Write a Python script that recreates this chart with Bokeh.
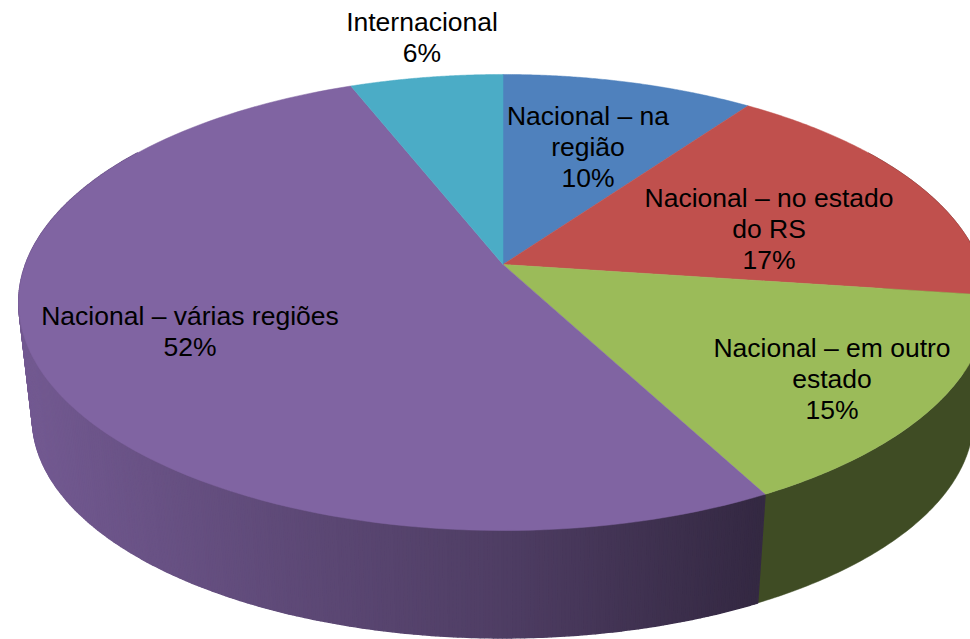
import numpy as np
from bokeh.plotting import figure
from bokeh.models import Range1d
from bokeh.core.properties import value
from bokeh.embed import file_html
from bokeh.resources import INLINE

# Data (share of each slice, clockwise from 12 o'clock)
categories = ["Nacional – na região", "Nacional – no estado do RS",
              "Nacional – em outro estado", "Nacional – várias regiões", "Internacional"]
shares = [9.9, 17.25, 15.1, 51.75, 6.0]
pct_labels = ["10%", "17%", "15%", "52%", "6%"]
colors = ["#4F81BD", "#C0504D", "#9BBB59", "#8064A2", "#4BACC6"]
label_lines = [["Nacional – na", "região", "10%"],
               ["Nacional – no estado", "do RS", "17%"],
               ["Nacional – em outro", "estado", "15%"],
               ["Nacional – várias regiões", "52%"],
               ["Internacional", "6%"]]
label_x = [587.5, 768.5, 831.5, 189.5, 421.5]
label_y = [115.5, 197.5, 347.5, 315.5, 21.5]
line_step = 31

W, H = 970, 639
p = figure(width=W, height=H, output_backend="svg", toolbar_location=None,
           x_range=Range1d(0, 970), y_range=Range1d(639, 0),
           min_border=0, min_border_left=0, min_border_right=0,
           min_border_top=0, min_border_bottom=0, outline_line_color=None)
p.axis.visible = False
p.grid.visible = False
p.background_fill_color = "white"
p.border_fill_color = "white"

# Perspective projection of the disc
CX, TOP_Y, A, B, C = 502.5, 264.0, 477.5, 221.7, 1 / 6
BOT_Y, BOT_A, BOT_B = 381.0, 464.0, 213.7


def project(theta, cy, a, b):
    u, v = np.sin(theta), np.cos(theta)
    w = 1 + C * v
    return CX + a * u / w, cy - b * v / w


def mix(hexcol, f):
    r, g, b = [int(hexcol[i:i + 2], 16) for i in (1, 3, 5)]
    return "#%02x%02x%02x" % (int(r * f), int(g * f), int(b * f))


edges = np.concatenate([[0], np.cumsum(shares)]) / sum(shares) * 2 * np.pi
WALL_LIMIT = np.arccos(0.55)

# Wall: one flat polygon for the dark slices, thin shaded strips for the purple one
for i, col in enumerate(colors):
    a0, a1 = max(edges[i], WALL_LIMIT), min(edges[i + 1], 2 * np.pi - WALL_LIMIT)
    if a1 <= a0:
        continue
    if col != "#8064A2":
        th = np.linspace(a0, a1, 100)
        x0, y0 = project(th, TOP_Y, A, B)
        x1, y1 = project(th[::-1], BOT_Y, BOT_A, BOT_B)
        dark = mix(col, 0.41)
        p.patch(np.concatenate([x0, x1]), np.concatenate([y0, y1]),
                fill_color=dark, line_color=dark, line_width=0.5)
    else:
        th = np.linspace(a0, a1, int((a1 - a0) / 0.008) + 1)
        strips = []
        for t0, t1 in zip(th[:-1], th[1:]):
            tm = (t0 + t1) / 2
            xs0, ys0 = project(np.array([t0, t1]), TOP_Y, A, B)
            xs1, ys1 = project(np.array([t1, t0]), BOT_Y, BOT_A, BOT_B)
            f = np.interp((xs0[0] + xs0[1]) / 2, [20, 300, 500, 620, 760],
                          [0.90, 0.73, 0.62, 0.52, 0.41])
            strips.append((np.cos(tm), list(xs0) + list(xs1), list(ys0) + list(ys1), mix(col, f)))
        strips.sort(key=lambda s: -s[0])
        c = [s[3] for s in strips]
        p.patches([s[1] for s in strips], [s[2] for s in strips],
                  fill_color=c, line_color=c, line_width=1.5)

# Top face
xs, ys = [], []
for i in range(len(shares)):
    th = np.linspace(edges[i], edges[i + 1], 120)
    x, y = project(th, TOP_Y, A, B)
    xs.append(np.concatenate([[CX], x]))
    ys.append(np.concatenate([[TOP_Y], y]))
p.patches(xs, ys, fill_color=colors, line_color=colors, line_width=0.5)

# Labels
tx, ty, tt = [], [], []
for lines, lx, ly in zip(label_lines, label_x, label_y):
    for k, line in enumerate(lines):
        tx.append(lx)
        ty.append(ly + k * line_step)
        tt.append(line)
p.text(tx, ty, text=tt, text_font=value("Liberation Sans"), text_font_size="26.5px",
       text_align="center", text_baseline="alphabetic", text_color="#000000")

open("out.html", "w").write(file_html(p, INLINE))
